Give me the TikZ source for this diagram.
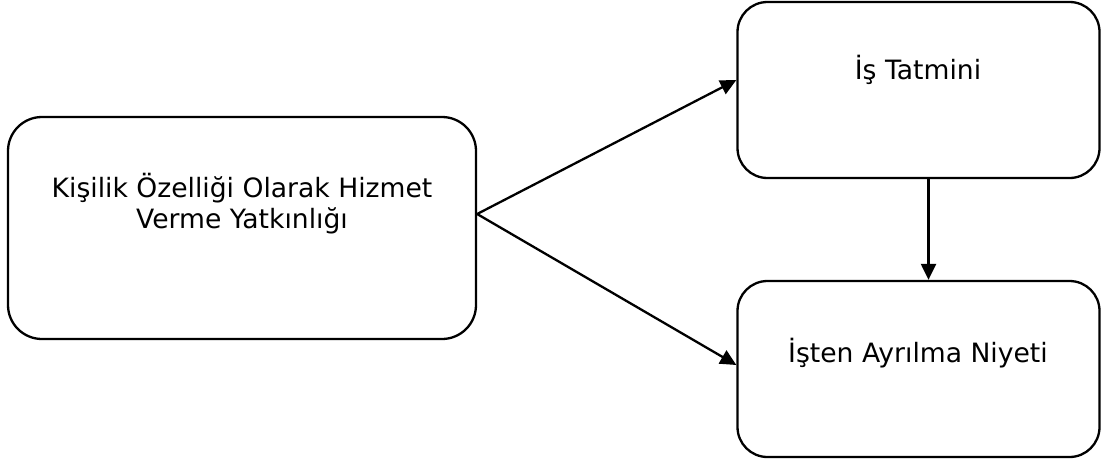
\documentclass[tikz,border=0pt]{standalone}
\usepackage{fontspec}
\setmainfont{DejaVu Sans}
\usetikzlibrary{arrows.meta,calc}
\begin{document}
\begin{tikzpicture}[x=1pt,y=-1pt,
  box/.style={draw=black, line width=2.3pt, rounded corners=34pt, fill=white, inner sep=0pt},
  lbl/.style={font=\fontsize{26.6}{31}\selectfont, align=center, inner sep=0pt},
  conn/.style={line width=2.3pt, -{Triangle[length=16pt,width=15pt]}}]
\useasboundingbox (0,0) rectangle (1105,463);
\fill[white] (0,0) rectangle (1105,463);
\node[box, minimum width=468pt, minimum height=222pt] (L) at (242,228) {};
\node[box, minimum width=362pt, minimum height=176pt, rounded corners=30pt] (T) at (918.5,90) {};
\node[box, minimum width=362pt, minimum height=176pt, rounded corners=30pt] (B) at (918.5,369) {};
\node[lbl] (Lt) at (242,203.5) {Kişilik Özelliği Olarak Hizmet\\Verme Yatkınlığı};
\node[lbl] (Tt) at (918,70) {İş Tatmini};
\node[lbl] (Bt) at (918,353) {İşten Ayrılma Niyeti};
\coordinate (s) at ($(L.east)+(0,-14)$);
\draw[conn] (s) -- ($(T.west)+(0,-10)$);
\draw[conn] (s) -- ($(B.west)+(0,-4)$);
\draw[conn] ($(T.south)+(10,0)$) -- ($(B.north)+(10,0)$);
\end{tikzpicture}
\end{document}
